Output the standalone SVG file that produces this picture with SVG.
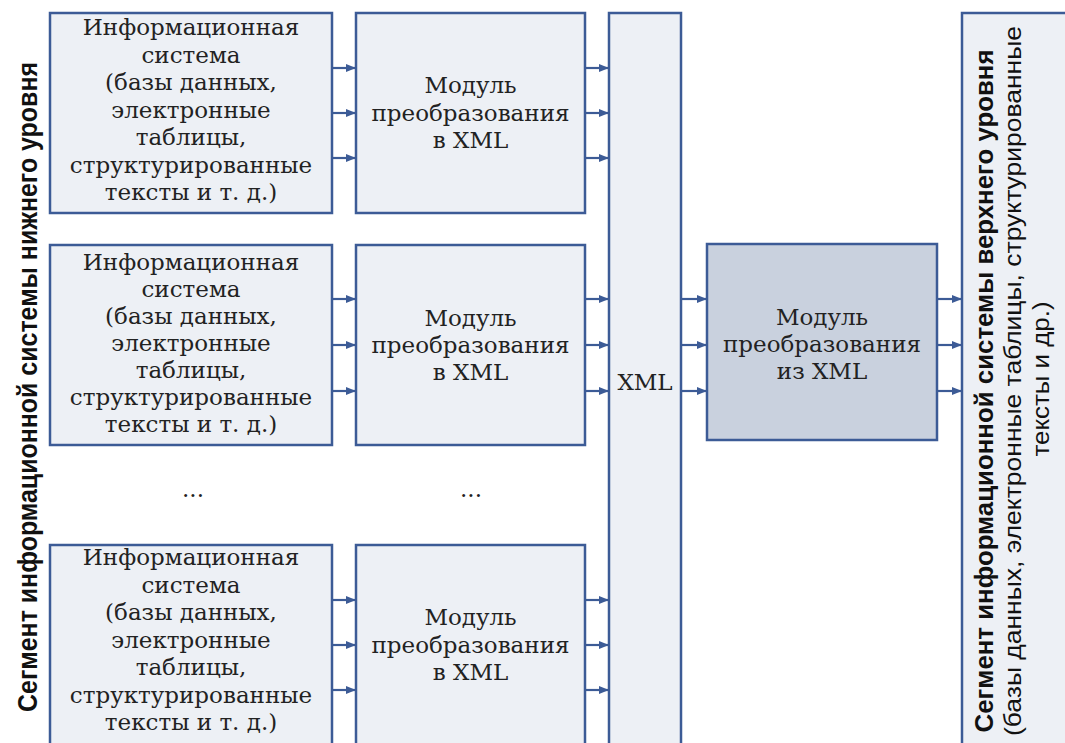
<svg xmlns="http://www.w3.org/2000/svg" width="1065" height="743" viewBox="0 0 1065 743">
<defs>
<marker id="ah" viewBox="0 0 10 8" refX="10" refY="4" markerWidth="10" markerHeight="8" markerUnits="userSpaceOnUse" orient="auto">
<path d="M0,0 L10,4 L0,8 Z" fill="#3c5b96"/>
</marker>
<style>
.box{fill:#edf0f5;stroke:#3c5b96;stroke-width:2.5}
.dark{fill:#c9d1de;stroke:#3c5b96;stroke-width:2.5}
.t{font-family:"DejaVu Serif","Liberation Serif",serif;font-size:23px;fill:#222;text-anchor:middle}
.v{font-family:"Liberation Sans",Arial,sans-serif;fill:#111;text-anchor:middle}
.c line{stroke:#3c5b96;stroke-width:2.2;marker-end:url(#ah)}
</style>
</defs>
<rect width="1065" height="743" fill="#ffffff"/>

<g id="label-lower">
<text class="v" transform="translate(37,387) rotate(-90)" font-size="28" font-weight="bold" textLength="650" lengthAdjust="spacingAndGlyphs">Сегмент информационной системы нижнего уровня</text>
</g>

<g id="is1">
<rect class="box" x="50" y="13" width="282" height="200"/>
<text class="t" x="191" y="35">Информационная</text>
<text class="t" x="191" y="62.5">система</text>
<text class="t" x="191" y="90">(базы данных,</text>
<text class="t" x="191" y="117.5">электронные</text>
<text class="t" x="191" y="145">таблицы,</text>
<text class="t" x="191" y="172.5">структурированные</text>
<text class="t" x="191" y="200">тексты и т. д.)</text>
</g>
<g id="is2">
<rect class="box" x="50" y="245" width="282" height="200"/>
<text class="t" x="191" y="270">Информационная</text>
<text class="t" x="191" y="297">система</text>
<text class="t" x="191" y="324">(базы данных,</text>
<text class="t" x="191" y="351">электронные</text>
<text class="t" x="191" y="378">таблицы,</text>
<text class="t" x="191" y="405">структурированные</text>
<text class="t" x="191" y="432">тексты и т. д.)</text>
</g>
<g id="is3">
<rect class="box" x="50" y="545" width="282" height="205"/>
<text class="t" x="191" y="565">Информационная</text>
<text class="t" x="191" y="592.5">система</text>
<text class="t" x="191" y="620">(базы данных,</text>
<text class="t" x="191" y="647.5">электронные</text>
<text class="t" x="191" y="675">таблицы,</text>
<text class="t" x="191" y="702.5">структурированные</text>
<text class="t" x="191" y="730">тексты и т. д.)</text>
</g>

<g id="mod1">
<rect class="box" x="356" y="13" width="229" height="200"/>
<text class="t" x="470.5" y="93">Модуль</text>
<text class="t" x="470.5" y="121">преобразования</text>
<text class="t" x="470.5" y="148">в XML</text>
</g>
<g id="mod2">
<rect class="box" x="356" y="245" width="229" height="200"/>
<text class="t" x="470.5" y="326">Модуль</text>
<text class="t" x="470.5" y="353">преобразования</text>
<text class="t" x="470.5" y="380">в XML</text>
</g>
<g id="mod3">
<rect class="box" x="356" y="545" width="229" height="205"/>
<text class="t" x="470.5" y="625">Модуль</text>
<text class="t" x="470.5" y="653">преобразования</text>
<text class="t" x="470.5" y="680">в XML</text>
</g>

<g id="dots">
<text class="t" x="193" y="497">...</text>
<text class="t" x="471" y="497">...</text>
</g>

<g id="xml">
<rect class="box" x="609" y="13" width="72" height="740"/>
<text class="t" x="645" y="390">XML</text>
</g>

<g id="mod-from">
<rect class="dark" x="707" y="244" width="230" height="196"/>
<text class="t" x="822" y="325">Модуль</text>
<text class="t" x="822" y="352">преобразования</text>
<text class="t" x="822" y="379">из XML</text>
</g>

<g id="upper">
<rect class="box" x="962" y="13" width="110" height="740"/>
<text class="v" transform="translate(993,391) rotate(-90)" font-size="25" font-weight="bold" textLength="683" lengthAdjust="spacingAndGlyphs">Сегмент информационной системы верхнего уровня</text>
<text class="v" transform="translate(1021,381) rotate(-90)" font-size="24" textLength="710" lengthAdjust="spacingAndGlyphs">(базы данных, электронные таблицы, структурированные</text>
<text class="v" transform="translate(1049,379) rotate(-90)" font-size="24" textLength="155" lengthAdjust="spacingAndGlyphs">тексты и др.)</text>
</g>

<g id="connectors" class="c">
<line x1="332" y1="68" x2="356" y2="68"/>
<line x1="332" y1="113" x2="356" y2="113"/>
<line x1="332" y1="158" x2="356" y2="158"/>
<line x1="585" y1="68" x2="609" y2="68"/>
<line x1="585" y1="113" x2="609" y2="113"/>
<line x1="585" y1="158" x2="609" y2="158"/>
<line x1="332" y1="299" x2="356" y2="299"/>
<line x1="332" y1="345" x2="356" y2="345"/>
<line x1="332" y1="391" x2="356" y2="391"/>
<line x1="585" y1="299" x2="609" y2="299"/>
<line x1="585" y1="345" x2="609" y2="345"/>
<line x1="585" y1="391" x2="609" y2="391"/>
<line x1="332" y1="600" x2="356" y2="600"/>
<line x1="332" y1="645" x2="356" y2="645"/>
<line x1="332" y1="690" x2="356" y2="690"/>
<line x1="585" y1="600" x2="609" y2="600"/>
<line x1="585" y1="645" x2="609" y2="645"/>
<line x1="585" y1="690" x2="609" y2="690"/>
<line x1="681" y1="299" x2="707" y2="299"/>
<line x1="681" y1="345" x2="707" y2="345"/>
<line x1="681" y1="391" x2="707" y2="391"/>
<line x1="937" y1="299" x2="962" y2="299"/>
<line x1="937" y1="345" x2="962" y2="345"/>
<line x1="937" y1="391" x2="962" y2="391"/>
</g>
</svg>
